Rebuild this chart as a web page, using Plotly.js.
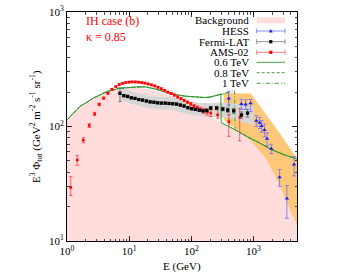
<!DOCTYPE html>
<html><head><meta charset="utf-8">
<script src="https://cdn.plot.ly/plotly-3.0.1.min.js"></script>
<style>html,body{margin:0;padding:0;background:#fff}#c{width:349px;height:274px}</style>
</head><body><div id="c"></div>
<script>
// Background
const bgE = [1, 1.6, 2.6, 4.3, 7, 10, 14, 20, 30, 50, 80, 100, 150, 200, 300, 400, 500, 800, 1250, 1930, 3000, 5000];
const bgV = [114, 149, 176, 200, 214, 218, 217, 211, 200, 183, 162, 152, 134, 122, 108, 100, 94, 81, 72, 63, 57, 52];
const floorE = [1, 5000];
const floorV = [1, 1];
// DM + background totals
const g06E = [1, 1.6, 2.6, 4.3, 7, 10, 13, 18, 25, 37, 55, 80, 100, 130, 165, 200, 240, 280, 298, 302, 400, 500, 800, 1250, 1930, 3000, 5000];
const g06V = [114, 149, 176, 201, 216, 220, 221, 222, 214, 201, 190, 184, 182, 180, 179, 180, 184, 190, 193, 108, 100, 94, 81, 72, 63, 57, 52];
const g08E = [1, 1.6, 2.6, 4.3, 7, 10, 13, 18, 25, 37, 55, 80, 100, 130, 165, 200, 260, 320, 370, 396, 404, 500, 800, 1250, 1930, 3000, 5000];
const g08V = [114, 149, 176, 201, 216, 220, 221, 222, 214, 201, 190, 184, 182, 180, 179, 181, 186, 192, 198, 200, 100, 94, 81, 72, 63, 57, 52];
const g10E = [1, 1.6, 2.6, 4.3, 7, 10, 13, 18, 25, 37, 55, 80, 100, 130, 165, 200, 280, 360, 440, 495, 505, 800, 1250, 1930, 3000, 5000];
const g10V = [114, 149, 176, 201, 216, 220, 221, 222, 214, 201, 190, 184, 182, 180, 179, 182, 188, 195, 203, 207, 94, 81, 72, 63, 57, 52];
// AMS-02
const amsE = [1.15, 1.46, 1.83, 2.28, 2.78, 3.3, 3.88, 4.55, 5.27, 6.1, 6.9, 7.8, 8.8, 9.9, 11.1, 12.5, 14.1, 15.9, 17.9, 20.2, 22.8, 25.7, 29, 32.8, 37, 41.8, 47.2, 53.3, 60.2, 68, 76.8, 86.7, 98, 110.7, 125, 141, 160, 181, 205, 265, 400, 600];
const amsV = [29.4, 51, 76, 102, 129, 156, 177, 195, 211, 223, 232, 238, 242, 244, 245, 245, 244, 242, 239, 235, 231, 226, 220, 214, 207, 200, 194, 188, 181, 175, 169, 163, 157, 151, 146, 141, 137, 134, 131, 126, 110, 120];
const amsErrUp = [7.1, 5, 4, 4, 4, 4, 4, 4, 4, 4, 4, 4, 4, 4, 4, 4, 4, 4, 4, 4, 4, 4, 4, 4, 4, 4, 4, 4, 4, 4, 4, 4, 5, 5, 5, 6, 7, 8, 9, 19, 17, 23];
const amsErrDn = [4.4, 5, 4, 4, 4, 4, 4, 4, 4, 4, 4, 4, 4, 4, 4, 4, 4, 4, 4, 4, 4, 4, 4, 4, 4, 4, 4, 4, 4, 4, 4, 4, 5, 5, 5, 6, 7, 8, 9, 8, 28, 45];
// Fermi-LAT
const fermiE = [7.1, 8.2, 9.4, 10.8, 12.4, 14.3, 16.4, 18.9, 21.7, 25, 28.7, 33, 38, 43.7, 50.2, 57.8, 66.4, 76.4, 87.9, 101, 116, 134, 154, 177, 205, 255, 320, 385, 480, 640, 800];
const fermiV = [195, 186, 183, 178, 176, 172, 170, 167, 164, 163, 161, 160, 160, 159, 158, 157, 154, 151, 146, 143, 141, 139, 137, 138, 145, 145, 142, 139, 137, 126, 131];
const fermiErrUp = [22, 4, 4, 3, 3, 3, 3, 3, 3, 3, 3, 3, 3, 3, 3, 3, 3, 3, 3, 3, 3, 3, 3, 4, 4, 5, 5, 6, 7, 8, 10];
const fermiErrDn = [30, 4, 4, 3, 3, 3, 3, 3, 3, 3, 3, 3, 3, 3, 3, 3, 3, 3, 3, 3, 3, 3, 3, 4, 4, 5, 5, 6, 7, 8, 10];
const fermiBandE = [7, 10, 15, 20, 30, 50, 80, 120, 200, 300, 500, 700, 1000];
const fermiBandLo = [170, 160, 150, 145, 141, 139, 130, 125, 121, 120, 116, 108, 102];
const fermiBandHi = [218, 205, 193, 186, 182, 180, 169, 162, 160, 162, 158, 155, 150];
// HESS
const hessE = [400, 637, 747, 898, 1110, 1253, 1350, 1500, 1650, 1930, 2624, 3436, 4483];
const hessV = [176, 157, 156, 160, 112, 108, 101, 93, 78, 64, 36, 23.5, 46.6];
const hessErrUp = [25, 16, 15, 12, 12, 12, 12, 12, 10, 6, 6, 7, 8];
const hessErrDn = [22, 16, 15, 25, 12, 12, 12, 12, 10, 6, 6, 7.7, 9.6];
const hessBandE = [331, 600, 900, 1000, 1600, 2600, 5000];
const hessBandLo = [114, 90, 75, 70, 52, 31, 13.8];
const hessBandHi = [196, 196, 194, 180, 128, 88, 53];
// axis ticks
const xTickVals = [1, 10, 100, 1000];
const xTickText = ['10<sup>0</sup>', '10<sup>1</sup>', '10<sup>2</sup>', '10<sup>3</sup>'];
const yTickVals = [10, 100, 1000];
const yTickText = ['10<sup>1</sup>', '10<sup>2</sup>', '10<sup>3</sup>'];
const legendLabels = ['Background', 'HESS', 'Fermi-LAT', 'AMS-02', '0.6 TeV', '0.8 TeV', '1 TeV'];

const FONT = 'Liberation Serif, Times New Roman, serif';
const GREEN = '#2e9a2e';
const PINK = '#ffdddd';

const traces = [
  {x: floorE, y: floorV, mode: 'lines', line: {width: 0}, hoverinfo: 'skip', showlegend: false},
  {x: bgE, y: bgV, mode: 'lines', fill: 'tonexty', fillcolor: PINK, line: {width: 0}, showlegend: false},
  {x: hessBandE, y: hessBandLo, mode: 'lines', line: {width: 0}, showlegend: false},
  {x: hessBandE, y: hessBandHi, mode: 'lines', fill: 'tonexty', fillcolor: '#ffc878', line: {width: 0}, showlegend: false},
  {x: fermiBandE, y: fermiBandLo, mode: 'lines', line: {width: 0}, showlegend: false},
  {x: fermiBandE, y: fermiBandHi, mode: 'lines', fill: 'tonexty', fillcolor: '#d6d6d6', line: {width: 0}, showlegend: false},
  {x: g10E, y: g10V, mode: 'lines', line: {color: GREEN, width: 0.9, dash: '4px,2px,1px,2px'}, showlegend: false},
  {x: g08E, y: g08V, mode: 'lines', line: {color: GREEN, width: 0.9, dash: '3px,2px'}, showlegend: false},
  {x: g06E, y: g06V, mode: 'lines', line: {color: GREEN, width: 1}, showlegend: false},
  {x: amsE, y: amsV, mode: 'markers', marker: {color: '#ff0000', size: 2.6, symbol: 'square'},
   error_y: {type: 'data', array: amsErrUp, arrayminus: amsErrDn, color: '#ff4040', thickness: 0.8, width: 1.8}, showlegend: false},
  {x: fermiE, y: fermiV, mode: 'markers', marker: {color: '#000000', size: 3.3, symbol: 'square'},
   error_y: {type: 'data', array: fermiErrUp, arrayminus: fermiErrDn, color: '#666666', thickness: 0.8, width: 1.8}, showlegend: false},
  {x: hessE, y: hessV, mode: 'markers', marker: {color: '#2020ee', size: 4, symbol: 'triangle-up'},
   error_y: {type: 'data', array: hessErrUp, arrayminus: hessErrDn, color: '#7070ff', thickness: 0.8, width: 2}, showlegend: false}
];

// legend layout (paper coords)
const rowsPx = [20, 31, 41.7, 52.3, 62.3, 72.7, 83.3];
const toPy = p => (241 - p) / 229;
const toPx = p => (p - 67) / 230;
const lx0 = toPx(256.7), lx1 = toPx(285), lxc = toPx(270.8), ltx = toPx(250);
const shapes = [];
const annotations = [];
legendLabels.forEach((t, i) => {
  annotations.push({xref: 'paper', yref: 'paper', x: ltx, y: toPy(rowsPx[i]), xanchor: 'right', yanchor: 'middle',
    text: t, showarrow: false, borderpad: 0, font: {family: FONT, size: 11, color: '#000'}});
});
shapes.push({type: 'rect', xref: 'paper', yref: 'paper', x0: lx0, x1: lx1, y0: toPy(23.3), y1: toPy(17.3), fillcolor: PINK, line: {width: 0}});
const errRows = [[1, '#7070ff', '#2020ee', 'tri'], [2, '#777777', '#000', 'sq'], [3, '#ff6060', '#ff0000', 'sq']];
errRows.forEach(([i, lc, mc, m]) => {
  const y = toPy(rowsPx[i]);
  const dy = 2.5 / 229;
  shapes.push({type: 'line', xref: 'paper', yref: 'paper', x0: lx0, x1: lx1, y0: y, y1: y, line: {color: lc, width: 0.8}});
  shapes.push({type: 'line', xref: 'paper', yref: 'paper', x0: lx0, x1: lx0, y0: y - dy, y1: y + dy, line: {color: lc, width: 0.8}});
  shapes.push({type: 'line', xref: 'paper', yref: 'paper', x0: lx1, x1: lx1, y0: y - dy, y1: y + dy, line: {color: lc, width: 0.8}});
  const hx = 1.6 / 230, hy = 1.6 / 229;
  if (m === 'sq') {
    shapes.push({type: 'rect', xref: 'paper', yref: 'paper', x0: lxc - hx, x1: lxc + hx, y0: y - hy, y1: y + hy, fillcolor: mc, line: {width: 0}});
  } else {
    shapes.push({type: 'path', xref: 'paper', yref: 'paper',
      path: `M ${lxc - 2/230},${y - 1.6/229} L ${lxc + 2/230},${y - 1.6/229} L ${lxc},${y + 2/229} Z`, fillcolor: mc, line: {width: 0}});
  }
});
[[4, 'solid'], [5, '3px,2px'], [6, '4px,2px,1px,2px']].forEach(([i, d]) => {
  const y = toPy(rowsPx[i]);
  shapes.push({type: 'line', xref: 'paper', yref: 'paper', x0: lx0, x1: lx1, y0: y, y1: y, line: {color: GREEN, width: 0.9, dash: d}});
});
annotations.push({xref: 'paper', yref: 'paper', x: toPx(84), y: toPy(21), xanchor: 'left', yanchor: 'middle',
  text: 'IH case (b)', showarrow: false, font: {family: FONT, size: 12, color: '#ff0000'}});
annotations.push({xref: 'paper', yref: 'paper', x: toPx(84), y: toPy(37), xanchor: 'left', yanchor: 'middle',
  text: 'κ = 0.85', showarrow: false, font: {family: FONT, size: 12, color: '#ff0000'}});
annotations.push({xref: 'paper', yref: 'paper', x: toPx(36), y: toPy(127), xanchor: 'center', yanchor: 'middle', textangle: -90,
  text: 'E<sup>3</sup> Φ<sub>tot</sub> (GeV<sup>2</sup> m<sup>-2</sup> s<sup>-1</sup> sr<sup>-1</sup>)', showarrow: false,
  font: {family: FONT, size: 11, color: '#000'}});
annotations.push({xref: 'paper', yref: 'paper', x: toPx(182), y: toPy(266), xanchor: 'center', yanchor: 'middle',
  text: 'E (GeV)', showarrow: false, font: {family: FONT, size: 11, color: '#000'}});

const axisCommon = {
  type: 'log', showgrid: false, zeroline: false, showline: true, linecolor: '#000', linewidth: 1, mirror: 'ticks',
  ticks: 'inside', ticklen: 5, tickcolor: '#000', tickwidth: 0.8, tickmode: 'array',
  tickfont: {family: FONT, size: 11, color: '#000'},
  minor: {dtick: 'D1', ticks: 'inside', ticklen: 2.5, tickcolor: '#000', tickwidth: 0.7, showgrid: false}
};
const layout = {
  width: 349, height: 274, margin: {l: 67, r: 52, t: 12, b: 33},
  paper_bgcolor: '#fff', plot_bgcolor: '#fff', showlegend: false,
  xaxis: Object.assign({}, axisCommon, {range: [0, Math.log10(5000)], tickvals: xTickVals, ticktext: xTickText}),
  yaxis: Object.assign({}, axisCommon, {range: [1, 3], tickvals: yTickVals, ticktext: yTickText}),
  shapes: shapes, annotations: annotations
};
Plotly.newPlot('c', traces, layout, {staticPlot: true, displayModeBar: false});
</script></body></html>
